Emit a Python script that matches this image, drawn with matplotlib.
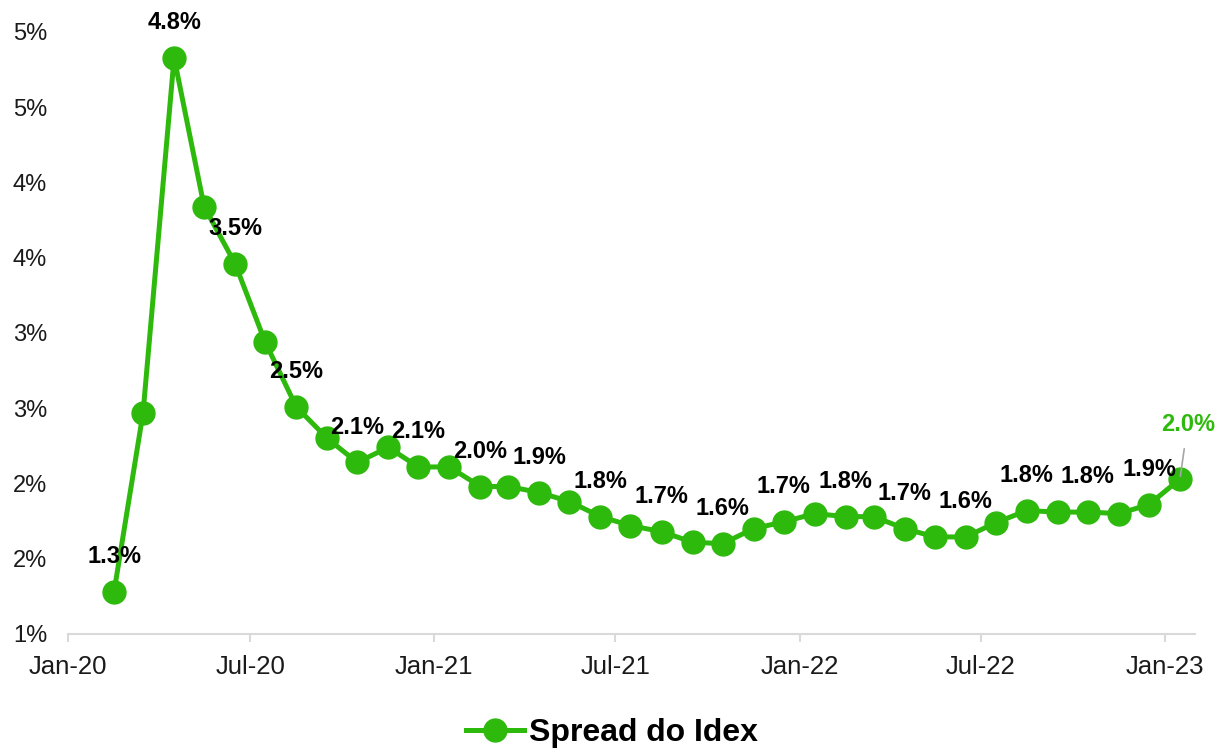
import matplotlib
matplotlib.use("Agg")
import matplotlib.pyplot as plt
import matplotlib.dates as mdates
from matplotlib.ticker import FixedLocator, FuncFormatter
import pandas as pd
import math

plt.rcParams['font.family'] = ['Liberation Sans', 'DejaVu Sans']

# ---- data ----
months = pd.date_range("2020-02-01", "2023-01-01", freq="MS") + pd.Timedelta(days=15)
spread = [1.28, 2.47, 4.83, 3.84, 3.46, 2.94, 2.51, 2.30, 2.14, 2.24, 2.11,
          2.11, 1.98, 1.98, 1.94, 1.88, 1.78, 1.72, 1.68, 1.61, 1.60, 1.70, 1.745,
          1.80, 1.78, 1.78, 1.70, 1.645, 1.645, 1.74, 1.82, 1.81, 1.81, 1.80, 1.86,
          2.03]
series_name = "Spread do Idex"
y_ticks = [1.0, 1.5, 2.0, 2.5, 3.0, 3.5, 4.0, 4.5, 5.0]
x_ticks = pd.to_datetime(["2020-01-01", "2020-07-01", "2021-01-01", "2021-07-01",
                          "2022-01-01", "2022-07-01", "2023-01-01"])

green = "#2EB90D"

fig = plt.figure(figsize=(12.24, 7.48), dpi=100)
ax = fig.add_axes([68/1224, 1 - 634/748, (1195 - 68)/1224, (634 - 32)/748])

ax.plot(months, spread, color=green, lw=3.6, marker='o', ms=16.5,
        label=series_name, zorder=3, clip_on=False)

# data labels every other point
n = len(spread)
for i, (d, v) in enumerate(zip(months, spread)):
    if i == n - 1:
        continue
    if i % 2 == 0:
        ax.annotate(f"{v:.1f}%", (d, v), xytext=(0, 25.5), textcoords='offset points',
                    ha='center', va='center', fontsize=17, fontweight='bold',
                    color='black', zorder=5)

# last label in green with leader line
ax.annotate(f"{spread[-1]:.1f}%", (months[-1], spread[-1]), xytext=(5.5, 39),
            textcoords='offset points', ha='center', va='center', fontsize=17,
            fontweight='bold', color=green, zorder=5,
            arrowprops=dict(arrowstyle='-', color='#A6A6A6', lw=1.2,
                            shrinkA=7, shrinkB=2))

ax.set_ylim(1.0, 5.0)
ax.set_xlim(pd.Timestamp("2020-01-01"), pd.Timestamp("2023-01-31"))

ax.yaxis.set_major_locator(FixedLocator(y_ticks))
ax.yaxis.set_major_formatter(FuncFormatter(lambda v, p: f"{int(math.floor(v + 0.5 + 1e-9))}%"))
ax.xaxis.set_major_locator(FixedLocator(mdates.date2num(x_ticks)))
ax.xaxis.set_major_formatter(mdates.DateFormatter("%b-%y"))

for s in ['top', 'right', 'left']:
    ax.spines[s].set_visible(False)
ax.spines['bottom'].set_color('#D9D9D9')
ax.spines['bottom'].set_linewidth(1.5)

ax.tick_params(axis='y', length=0, pad=15, labelsize=17, labelcolor='#1a1a1a')
ax.tick_params(axis='x', length=6, width=1.5, color='#D9D9D9', pad=9,
               labelsize=18.5, labelcolor='#1a1a1a')

leg = fig.legend(loc='center', bbox_to_anchor=(0.5, 0.02), frameon=False,
                 prop={'size': 23, 'weight': 'bold'}, handlelength=1.8,
                 handletextpad=0.15, borderaxespad=0)

fig.savefig("out.png", dpi=100)
